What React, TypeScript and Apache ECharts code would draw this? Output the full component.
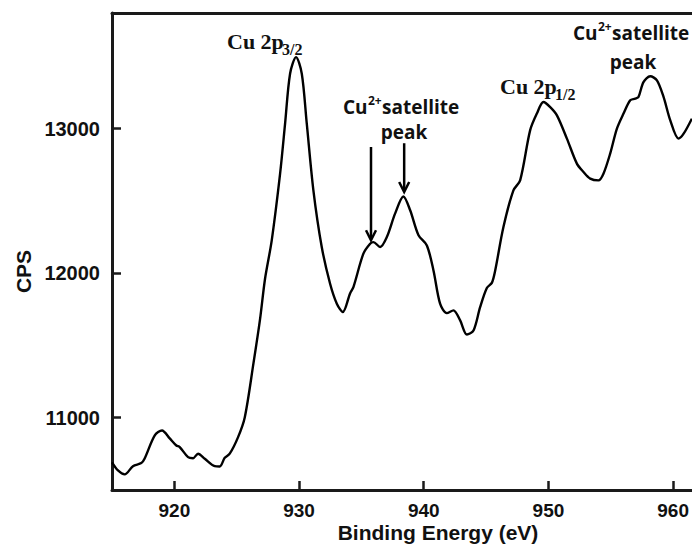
import { useEffect, useRef } from "react";
import * as echarts from "echarts";

// Cu 2p XPS spectrum: binding energy (eV) and counts per second
const energy = [
  915.0, 915.48, 916.02, 916.68, 917.35, 917.62, 918.43, 919.01, 919.63, 920.16,
  920.43, 921.1, 921.5, 921.9, 922.44, 923.24, 923.64, 924.04, 924.44, 925.11,
  925.65, 926.34, 926.87, 927.27, 927.81, 928.48, 928.88, 929.28, 929.76, 930.22,
  930.62, 931.15, 931.82, 932.49, 933.03, 933.51, 934.09, 934.36, 935.16, 935.7,
  935.96, 936.5, 937.04, 937.7, 938.37, 938.91, 939.58, 940.25, 940.78, 941.31,
  941.85, 942.38, 942.92, 943.46, 943.99, 944.52, 945.06, 945.46, 945.73, 946.39,
  947.19, 947.73, 948.53, 949.07, 949.6, 950.14, 950.68, 951.48, 952.28, 952.81,
  953.35, 954.01, 954.41, 954.95, 955.49, 956.02, 956.56, 956.96, 957.22, 957.62,
  958.16, 958.7, 959.23, 959.77, 960.43, 960.84, 961.5,
];
const cps = [
  10691, 10635, 10608, 10665, 10686, 10718, 10878, 10912, 10857, 10808,
  10797, 10727, 10720, 10751, 10716, 10665, 10663, 10723, 10751, 10866,
  11004, 11374, 11680, 11960, 12227, 12688, 13034, 13380, 13495, 13380,
  13034, 12573, 12181, 11927, 11789, 11731, 11860, 11904, 12135, 12204,
  12215, 12181, 12250, 12412, 12531, 12435, 12262, 12192, 12019, 11789,
  11724, 11743, 11673, 11576, 11604, 11765, 11898, 11933, 12019, 12319,
  12573, 12642, 12988, 13104, 13184, 13149, 13092, 12931, 12758, 12700,
  12654, 12642, 12688, 12827, 13000, 13104, 13196, 13207, 13219, 13322,
  13362, 13334, 13219, 13057, 12931, 12965, 13069,
];

const xTicks = [920, 930, 940, 950, 960];
const yTicks = [11000, 12000, 13000];

// Arrows marking the Cu2+ satellite features: energy, tail CPS, tip CPS
const arrowEnergy = [935.77, 938.43];
const arrowFrom = [12873, 12899];
const arrowTo = [12228, 12562];

const X_MIN = 915;
const X_MAX = 961.5;
const Y_MIN = 10500;
const Y_MAX = 13800;

const AXIS_COLOR = "#1a1a1a";
const SANS = '"Liberation Sans", Arial, sans-serif';
const SERIF = '"Liberation Serif", "Times New Roman", serif';
const LABEL_SANS = '"Open Sans", "Liberation Sans", sans-serif';

function text(
  str: string,
  x: number,
  y: number,
  font: string,
  align: "left" | "center" | "right" = "left",
  rotation = 0
) {
  return {
    type: "text",
    x,
    y,
    rotation,
    silent: true,
    style: {
      text: str,
      font,
      fill: "#111",
      textAlign: align,
      textVerticalAlign: "middle",
    },
  };
}

export default function App() {
  const ref = useRef<HTMLDivElement>(null);

  useEffect(() => {
    const chart = echarts.init(ref.current!, null, { renderer: "svg" });

    const axisLabel = {
      fontFamily: SANS,
      fontWeight: "bold" as const,
      fontSize: 19,
      color: "#111",
      formatter: (v: number) => String(v),
    };

    chart.setOption({
      animation: false,
      backgroundColor: "#fff",
      grid: { left: 112, right: 0, top: 13, bottom: 54 },
      xAxis: [
        {
          type: "value",
          min: X_MIN,
          max: X_MAX,
          axisLine: { show: true, lineStyle: { color: AXIS_COLOR, width: 3 } },
          axisTick: {
            show: true,
            inside: true,
            length: 9,
            customValues: xTicks,
            lineStyle: { color: AXIS_COLOR, width: 2.5 },
          },
          axisLabel: { ...axisLabel, margin: 11, customValues: xTicks },
          splitLine: { show: false },
        },
        {
          type: "value",
          position: "top",
          min: X_MIN,
          max: X_MAX,
          axisLine: { show: true, lineStyle: { color: AXIS_COLOR, width: 3 } },
          axisTick: { show: false },
          axisLabel: { show: false },
          splitLine: { show: false },
        },
      ],
      yAxis: {
        type: "value",
        min: Y_MIN,
        max: Y_MAX,
        axisLine: { show: true, lineStyle: { color: AXIS_COLOR, width: 3 } },
        axisTick: {
          show: true,
          inside: true,
          length: 9,
          customValues: yTicks,
          lineStyle: { color: AXIS_COLOR, width: 2.5 },
        },
        axisLabel: { ...axisLabel, fontSize: 20, margin: 12, customValues: yTicks },
        splitLine: { show: false },
      },
      series: [
        {
          type: "line",
          xAxisIndex: 0,
          yAxisIndex: 0,
          data: energy.map((e, i) => [e, cps[i]]),
          showSymbol: false,
          smooth: 0.3,
          clip: true,
          lineStyle: { color: "#000", width: 2.4 },
        },
      ],
    });

    const arrows: any[] = [];
    arrowEnergy.forEach((e, i) => {
      const [x, y0] = chart.convertToPixel({ seriesIndex: 0 }, [e, arrowFrom[i]]);
      const [, y1] = chart.convertToPixel({ seriesIndex: 0 }, [e, arrowTo[i]]);
      arrows.push({
        type: "line",
        silent: true,
        shape: { x1: x, y1: y0, x2: x, y2: y1 - 1 },
        style: { stroke: "#000", lineWidth: 2.5 },
      });
      arrows.push({
        type: "polyline",
        silent: true,
        shape: {
          points: [
            [x - 5, y1 - 10],
            [x, y1],
            [x + 5, y1 - 10],
          ],
        },
        style: { stroke: "#000", lineWidth: 2.5, fill: "none" },
      });
    });

    const serifMain = `bold 22px ${SERIF}`;
    const serifSub = `bold 16px ${SERIF}`;
    const satMain = `bold 19px ${LABEL_SANS}`;
    const satSup = `bold 12px ${LABEL_SANS}`;

    chart.setOption({
      graphic: [
        // axis titles
        text("CPS", 23, 271.5, `bold 21px ${SANS}`, "center", Math.PI / 2),
        text("Binding Energy (eV)", 438, 532, `bold 21px ${SANS}`, "center"),
        // Cu 2p3/2
        text("Cu 2p", 227, 41.5, serifMain),
        text("3/2", 282, 49, serifSub),
        // Cu 2p1/2
        text("Cu 2p", 500, 86.5, serifMain),
        text("1/2", 555, 94, serifSub),
        // Cu2+ satellite peak (middle)
        text("Cu", 343, 106.5, satMain),
        text("2+", 368, 100, satSup),
        text("satellite", 382, 106.5, satMain),
        text("peak", 404, 131.5, satMain, "center"),
        // Cu2+ satellite peak (right)
        text("Cu", 573, 32.5, satMain),
        text("2+", 598, 26, satSup),
        text("satellite", 612, 32.5, satMain),
        text("peak", 633, 61.5, satMain, "center"),
        ...arrows,
      ],
    });

    return () => chart.dispose();
  }, []);

  return (
    <div
      ref={ref}
      style={{ position: "fixed", left: 0, top: 0, width: 692, height: 544 }}
    />
  );
}
